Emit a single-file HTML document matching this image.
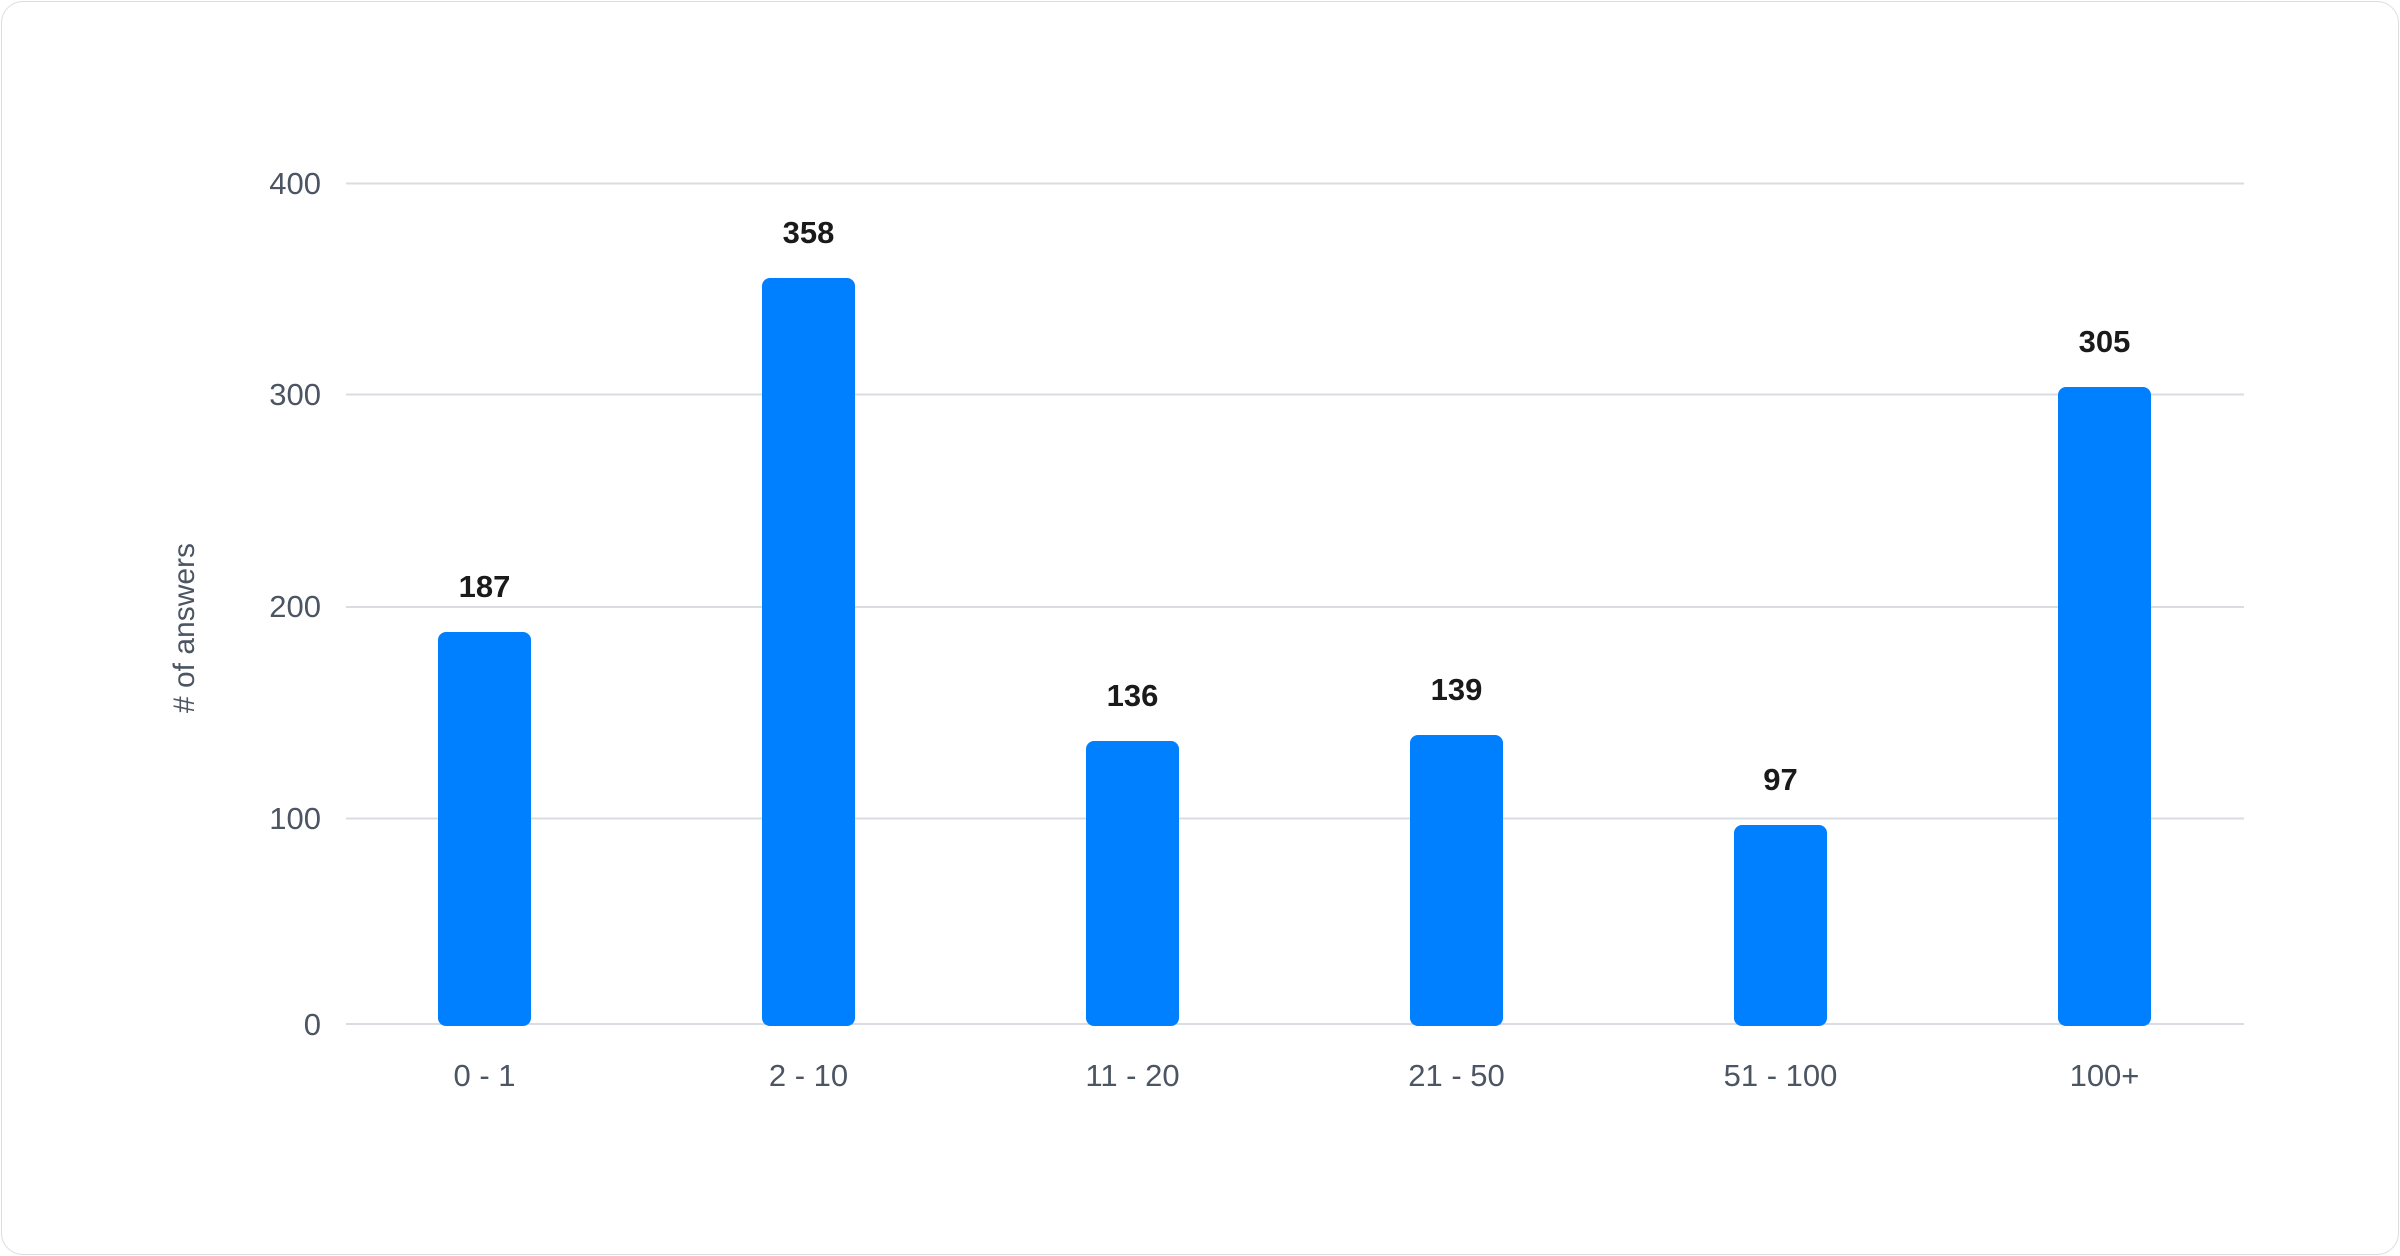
<!DOCTYPE html>
<html><head><style>
html,body{margin:0;padding:0;background:#fff;}
.card{position:absolute;left:1px;top:1px;width:2396px;height:1252px;border:1px solid #dcdde0;border-radius:22px;}
svg{position:absolute;left:0;top:0;}
</style></head><body>
<div class="card"></div>
<svg width="2400" height="1256" viewBox="0 0 2400 1256" font-family="Liberation Sans, sans-serif">
<g stroke="#d9dce1" stroke-width="2">
<line x1="346" x2="2244" y1="183.5" y2="183.5"/>
<line x1="346" x2="2244" y1="394.5" y2="394.5"/>
<line x1="346" x2="2244" y1="607" y2="607"/>
<line x1="346" x2="2244" y1="818.5" y2="818.5"/>
<line x1="346" x2="2244" y1="1024" y2="1024"/>
</g>
<g fill="#4b5563" font-size="31" text-anchor="end">
<text x="321" y="194">400</text>
<text x="321" y="405">300</text>
<text x="321" y="617">200</text>
<text x="321" y="829">100</text>
<text x="321" y="1035">0</text>
</g>
<text transform="translate(194,628) rotate(-90)" fill="#4b5563" font-size="30" text-anchor="middle"># of answers</text>
<g fill="#0080ff">
<rect x="438" y="632" width="93" height="394" rx="8"/>
<rect x="762" y="278" width="93" height="748" rx="8"/>
<rect x="1086" y="741" width="93" height="285" rx="8"/>
<rect x="1410" y="735" width="93" height="291" rx="8"/>
<rect x="1734" y="825" width="93" height="201" rx="8"/>
<rect x="2058" y="387" width="93" height="639" rx="8"/>
</g>
<g fill="#1a1a1a" font-size="31" font-weight="bold" text-anchor="middle">
<text x="484.5" y="597">187</text>
<text x="808.5" y="243">358</text>
<text x="1132.5" y="706">136</text>
<text x="1456.5" y="700">139</text>
<text x="1780.5" y="790">97</text>
<text x="2104.5" y="352">305</text>
</g>
<g fill="#4b5563" font-size="31" text-anchor="middle">
<text x="484.5" y="1086">0 - 1</text>
<text x="808.5" y="1086">2 - 10</text>
<text x="1132.5" y="1086">11 - 20</text>
<text x="1456.5" y="1086">21 - 50</text>
<text x="1780.5" y="1086">51 - 100</text>
<text x="2104.5" y="1086">100+</text>
</g>
</svg>
</body></html>
